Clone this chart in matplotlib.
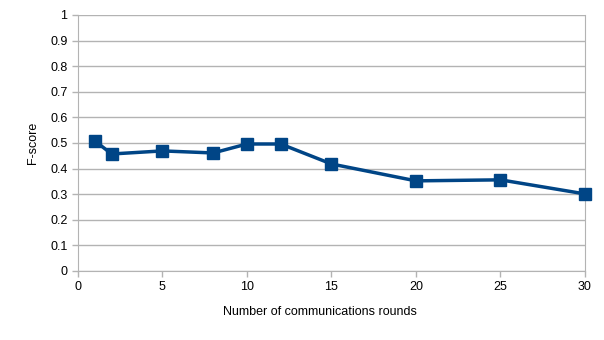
import matplotlib
matplotlib.use("Agg")
import matplotlib.pyplot as plt

rounds = [1, 2, 5, 8, 10, 12, 15, 20, 25, 30]
fscore = [0.508, 0.457, 0.469, 0.461, 0.496, 0.496, 0.418, 0.352, 0.356, 0.301]

plt.rcParams['font.family'] = ['Liberation Sans', 'DejaVu Sans']
plt.rcParams['font.size'] = 9

fig = plt.figure(figsize=(6.04, 3.4), dpi=100)
ax = fig.add_axes([0.129, 0.203, 0.8395, 0.753])

ax.plot(rounds, fscore, color='#004586', linewidth=2.5, marker='s', markersize=8,
        zorder=3, clip_on=False)

ax.set_xlim(0, 30)
ax.set_ylim(0, 1)
ax.set_xticks(range(0, 31, 5))
ax.set_yticks([i / 10 for i in range(11)])
ax.set_yticklabels(['0', '0.1', '0.2', '0.3', '0.4', '0.5', '0.6', '0.7', '0.8', '0.9', '1'])
ax.yaxis.grid(True, color='#b3b3b3', linewidth=1)
ax.set_axisbelow(True)

ax.spines['top'].set_visible(False)
for side in ['left', 'bottom', 'right']:
    ax.spines[side].set_color('#b3b3b3')
ax.tick_params(color='#b3b3b3', length=4, width=1)

ax.set_xlabel('Number of communications rounds', labelpad=11)
ax.xaxis.set_label_coords(0.478, -0.135)
ax.set_ylabel('F-score', labelpad=8)

fig.savefig('out.png', dpi=100)
